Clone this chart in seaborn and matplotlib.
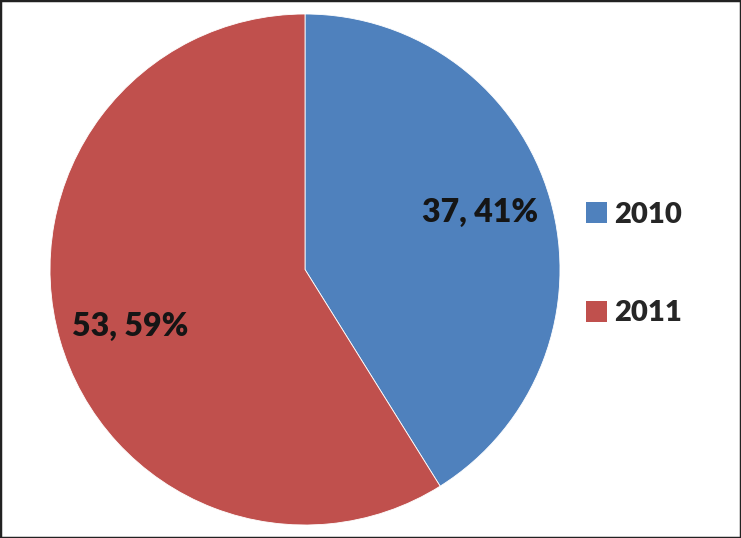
import matplotlib
matplotlib.use("Agg")
import numpy as np
import matplotlib.pyplot as plt
import seaborn as sns
from matplotlib.patches import Patch, Rectangle

years = ["2010", "2011"]
counts = [37, 53]
colors = ["#4F81BD", "#C0504D"]

sns.set_theme(style="white")
plt.rcParams['font.family'] = ['Lato', 'DejaVu Sans']

fig = plt.figure(figsize=(7.41, 5.38), dpi=100)
fig.patch.set_facecolor("white")
ax = fig.add_axes([50/741, 13/538, 510/741, 511/538])

total = sum(counts)

def fmt(p):
    v = round(p * total / 100)
    return f"{v}, {p:.0f}%"

wedges, texts, autotexts = ax.pie(
    counts, colors=colors, startangle=90, counterclock=False,
    autopct=fmt, pctdistance=0.72,
    wedgeprops=dict(edgecolor="white", linewidth=0.6),
    textprops=dict(fontsize=23, fontweight="heavy", color="#151515"),
)
# nudge labels slightly counter-clockwise (Excel-like placement)
rot = np.deg2rad(2.0)
for t in autotexts:
    x, y = t.get_position()
    t.set_position((x*np.cos(rot) - y*np.sin(rot), x*np.sin(rot) + y*np.cos(rot)))

ax.set_xlim(-1, 1)
ax.set_ylim(-1, 1)
ax.set_aspect("auto")

handles = [Patch(facecolor=c, edgecolor="none") for c in colors]
fig.legend(handles, years, loc="center left",
           bbox_to_anchor=(560/741, (538 - 264)/538),
           frameon=False, prop=dict(weight="heavy", size=21),
           handlelength=0.72, handleheight=0.72, handletextpad=0.25,
           labelspacing=2.5)

fig.patches.append(Rectangle((0, 0), 1, 1, transform=fig.transFigure,
                             fill=False, edgecolor="#222222", linewidth=2.5))

fig.savefig("out.png", dpi=100)
